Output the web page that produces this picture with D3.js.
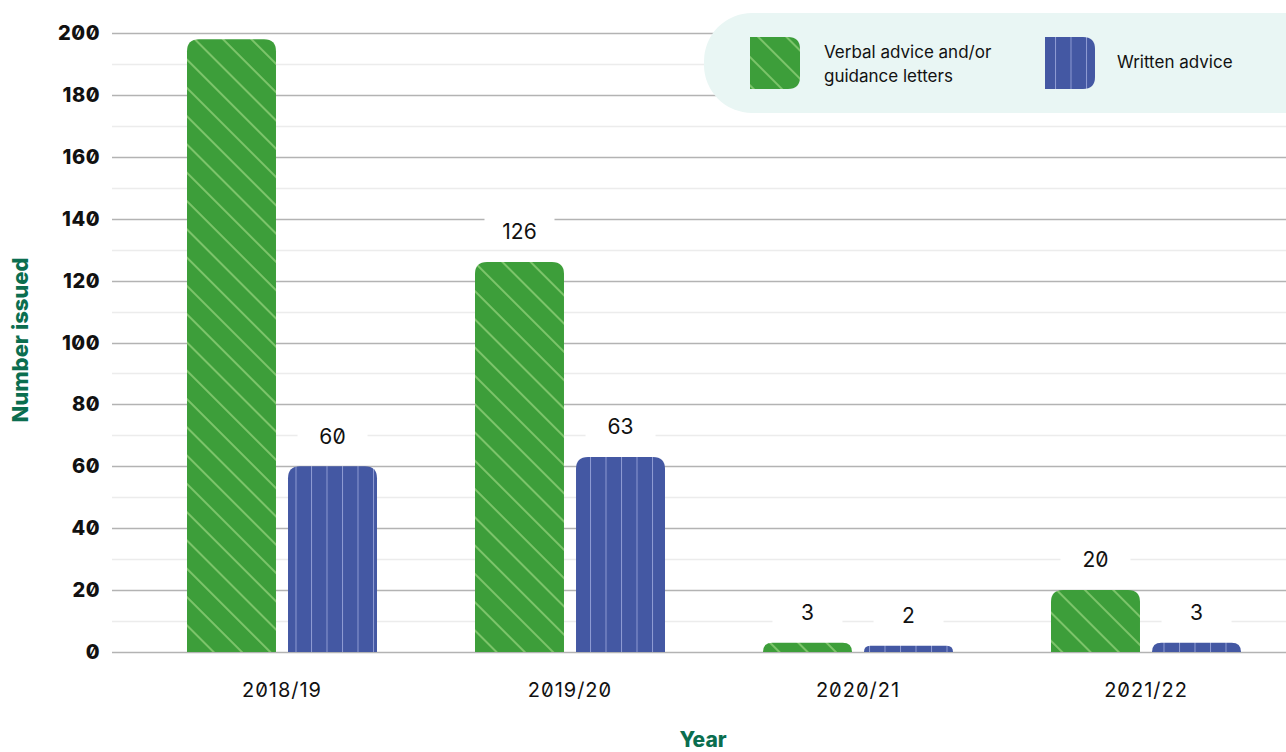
<!DOCTYPE html>
<html>
<head>
<meta charset="utf-8">
<script src="https://cdn.jsdelivr.net/npm/d3@7"></script>
<style>
  body { margin: 0; background: #fff; }
  svg text { font-family: Inter, "Noto Sans", sans-serif; font-feature-settings: "zero" 1; }
</style>
</head>
<body>
<script>
var years = ["2018/19", "2019/20", "2020/21", "2021/22"];
var verbal = [198, 126, 3, 20];
var written = [60, 63, 2, 3];
var seriesNames = ["Verbal advice and/or guidance letters", "Written advice"];
var yTicks = [0, 20, 40, 60, 80, 100, 120, 140, 160, 180, 200];

var W = 1286, H = 752;
var svg = d3.select("body").append("svg").attr("width", W).attr("height", H);

var defs = svg.append("defs");

// green diagonal stripes
var pg = defs.append("pattern").attr("id", "pGreen")
    .attr("patternUnits", "userSpaceOnUse")
    .attr("width", 20).attr("height", 20)
    .attr("patternTransform", "rotate(-45)");
pg.append("rect").attr("width", 20).attr("height", 20).attr("fill", "#3d9e3a");
pg.append("line").attr("x1", 10).attr("x2", 10).attr("y1", 0).attr("y2", 20)
    .attr("stroke", "#7cc46a").attr("stroke-width", 2);

// blue vertical lines
var pb = defs.append("pattern").attr("id", "pBlue")
    .attr("patternUnits", "userSpaceOnUse")
    .attr("width", 15.5).attr("height", 20).attr("x", 1);
pb.append("rect").attr("width", 15.5).attr("height", 20).attr("fill", "#4458a3");
pb.append("line").attr("x1", 0.5).attr("x2", 0.5).attr("y1", 0).attr("y2", 20)
    .attr("stroke", "#8e9bd3").attr("stroke-width", 1);

var y = d3.scaleLinear().domain([0, 200]).range([652, 33]);
var x0 = d3.scaleBand().domain(years).range([138, 1290]).paddingInner(0).paddingOuter(0);
var x1 = d3.scaleBand().domain([0, 1]).range([x0.bandwidth() / 2 - 95, x0.bandwidth() / 2 + 95])
    .paddingInner(0.119).paddingOuter(0);

// gridlines
var minor = d3.range(10, 200, 20);
svg.append("g").selectAll("line").data(minor).enter().append("line")
    .attr("x1", 112).attr("x2", W)
    .attr("y1", function (d) { return Math.round(y(d)) + 0.5; })
    .attr("y2", function (d) { return Math.round(y(d)) + 0.5; })
    .attr("stroke", "#ececec").attr("stroke-width", 1.5);
svg.append("g").selectAll("line").data(yTicks).enter().append("line")
    .attr("x1", 112).attr("x2", W)
    .attr("y1", function (d) { return Math.round(y(d)) + 0.5; })
    .attr("y2", function (d) { return Math.round(y(d)) + 0.5; })
    .attr("stroke", "#b3b3b3").attr("stroke-width", 1.5);

// y tick labels
svg.append("g").selectAll("text").data(yTicks).enter().append("text")
    .attr("x", 100).attr("y", function (d) { return y(d); })
    .attr("dy", "0.35em").attr("text-anchor", "end")
    .style("font-size", "20px").style("font-weight", 800).attr("fill", "#111")
    .style("letter-spacing", "0.5px")
    .text(function (d) { return d; });

function topRounded(x, yTop, w, h, r) {
    r = Math.min(r, h, w / 2);
    return "M" + x + "," + (yTop + h) +
        "V" + (yTop + r) +
        "Q" + x + "," + yTop + " " + (x + r) + "," + yTop +
        "H" + (x + w - r) +
        "Q" + (x + w) + "," + yTop + " " + (x + w) + "," + (yTop + r) +
        "V" + (yTop + h) + "Z";
}

var rows = [];
years.forEach(function (yr, i) {
    rows.push({ year: yr, s: 0, v: verbal[i] });
    rows.push({ year: yr, s: 1, v: written[i] });
});

svg.append("g").selectAll("path.bar").data(rows).enter().append("path")
    .attr("class", "bar")
    .attr("d", function (d) {
        var bx = x0(d.year) + x1(d.s);
        var top = y(d.v);
        return topRounded(bx, top, x1.bandwidth(), y(0) - top, 12);
    })
    .attr("fill", function (d) { return d.s === 0 ? "url(#pGreen)" : "url(#pBlue)"; });

// value labels with white boxes (the one above the plot top has no room, only its box shows)
var lab = svg.append("g").selectAll("g.lab").data(rows).enter().append("g")
    .attr("class", "lab")
    .attr("transform", function (d) {
        return "translate(" + (x0(d.year) + x1(d.s) + x1.bandwidth() / 2) + "," + (y(d.v) - 30) + ")";
    });
lab.append("rect").attr("x", -35).attr("y", -18).attr("width", 70).attr("height", 34)
    .attr("fill", "#fff");
lab.filter(function (d) { return y(d.v) - 30 > 30; })
    .append("text").attr("text-anchor", "middle").attr("dy", "0.35em")
    .style("font-size", "21px").attr("fill", "#111")
    .text(function (d) { return d.v; });

// x axis labels
svg.append("g").selectAll("text").data(years).enter().append("text")
    .attr("x", function (d) { return x0(d) + x0.bandwidth() / 2; })
    .attr("y", 690).attr("dy", "0.35em").attr("text-anchor", "middle")
    .style("font-size", "20px").attr("fill", "#111").style("letter-spacing", "1px")
    .text(function (d) { return d; });

// axis titles
svg.append("text").attr("x", 703).attr("y", 740).attr("dy", "0.35em")
    .attr("text-anchor", "middle")
    .style("font-size", "21px").style("font-weight", 800).attr("fill", "#0b6e4f")
    .text("Year");
svg.append("text").attr("transform", "translate(20,340) rotate(-90)")
    .attr("dy", "0.35em").attr("text-anchor", "middle")
    .style("font-size", "22px").style("font-weight", 800).attr("fill", "#0b6e4f")
    .text("Number issued");

// legend
var leg = svg.append("g");
leg.append("rect").attr("x", 704).attr("y", 13).attr("width", 640).attr("height", 100)
    .attr("rx", 48).attr("fill", "#e9f6f4");

function swatch(x, fill) {
    var w = 50, h = 52, r = 12, t = 37;
    leg.append("path")
        .attr("d", "M" + x + "," + t + "H" + (x + w - r) +
            "Q" + (x + w) + "," + t + " " + (x + w) + "," + (t + r) +
            "V" + (t + h - r) +
            "Q" + (x + w) + "," + (t + h) + " " + (x + w - r) + "," + (t + h) +
            "H" + x + "Z")
        .attr("fill", fill);
}
swatch(750, "url(#pGreen)");
swatch(1045, "url(#pBlue)");

leg.append("text").attr("x", 824).attr("y", 52).attr("dy", "0.35em")
    .style("font-size", "17px").attr("fill", "#111").text("Verbal advice and/or");
leg.append("text").attr("x", 824).attr("y", 76).attr("dy", "0.35em")
    .style("font-size", "17px").attr("fill", "#111").text("guidance letters");
leg.append("text").attr("x", 1117).attr("y", 62).attr("dy", "0.35em")
    .style("font-size", "17px").attr("fill", "#111").text(seriesNames[1]);
</script>
</body>
</html>
